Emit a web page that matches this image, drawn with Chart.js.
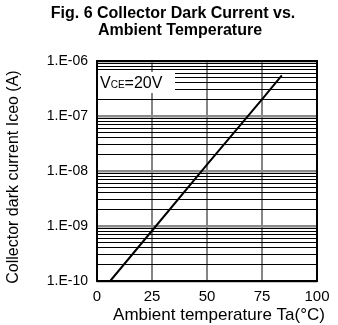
<!DOCTYPE html>
<html>
<head>
<meta charset="utf-8">
<script src="https://cdn.jsdelivr.net/npm/chart.js@4.4.1/dist/chart.umd.min.js"></script>
<style>body{margin:0;background:#fff}</style>
</head>
<body>
<canvas id="darkCurrentChart" width="338" height="325"></canvas>
<script>
// Fig. 6 data
const temperature = [6, 25, 50, 75, 84];
const darkCurrent = [1.0e-10, 8.2e-10, 1.3e-8, 2.0e-7, 5.5e-7];

const xTicks = [0, 25, 50, 75, 100];
const yDecades = [1e-10, 1e-9, 1e-8, 1e-7, 1e-6];
const yDecadeLabels = ['1.E-10', '1.E-09', '1.E-08', '1.E-07', '1.E-06'];
const minorSteps = [2, 3, 4, 5, 6, 7, 8, 9];

const titleLines = ['Fig. 6 Collector Dark Current vs.', 'Ambient Temperature'];
const xTitle = 'Ambient temperature Ta(°C)';
const yTitle = 'Collector dark current Iceo (A)';

const FONT = 'Liberation Sans, Arial, sans-serif';

// log ticks: every decade plus 2..9 inside it
const yTicks = [];
yDecades.forEach((d, i) => {
  yTicks.push(d);
  if (i < yDecades.length - 1) minorSteps.forEach((m) => yTicks.push(m * d));
});

const decadeIndex = (v) => yDecades.findIndex((d) => Math.abs(v / d - 1) < 1e-6);

// titles, plot frame and the VCE note
const framePlugin = {
  id: 'frame',
  afterDatasetsDraw(chart) {
    const { ctx, chartArea } = chart;
    ctx.save();
    ctx.fillStyle = '#000';

    // chart title (two lines)
    ctx.textAlign = 'center';
    ctx.textBaseline = 'middle';
    ctx.font = 'bold 16px ' + FONT;
    ctx.fillText(titleLines[0], 173, 14);
    ctx.fillText(titleLines[1], 180, 31);

    // axis titles
    ctx.font = '17px ' + FONT;
    ctx.fillText(xTitle, 219, chartArea.bottom + 34);
    ctx.save();
    ctx.translate(14, (chartArea.top + chartArea.bottom) / 2 + 6);
    ctx.rotate(-Math.PI / 2);
    ctx.font = '16px ' + FONT;
    ctx.fillText(yTitle, 0, 0);
    ctx.restore();

    // note box
    const bx = chartArea.left + 1, by = chartArea.top + 11;
    ctx.fillStyle = '#fff';
    ctx.fillRect(bx, by, 77, 21);
    ctx.fillStyle = '#000';
    ctx.textAlign = 'left';
    ctx.textBaseline = 'alphabetic';
    let tx = bx + 2;
    const ty = by + 16;
    ctx.font = '16px ' + FONT;
    ctx.fillText('V', tx, ty);
    tx += ctx.measureText('V').width;
    ctx.font = '10px ' + FONT;
    ctx.fillText('CE', tx, ty);
    tx += ctx.measureText('CE').width;
    ctx.font = '16px ' + FONT;
    ctx.fillText('=20V', tx, ty);

    // border
    ctx.strokeStyle = '#000';
    ctx.lineWidth = 2;
    ctx.strokeRect(chartArea.left, chartArea.top, chartArea.right - chartArea.left, chartArea.bottom - chartArea.top);
    ctx.restore();
  },
};

new Chart(document.getElementById('darkCurrentChart'), {
  type: 'line',
  data: {
    datasets: [
      {
        data: temperature.map((t, i) => ({ x: t, y: darkCurrent[i] })),
        borderColor: '#000',
        borderWidth: 2,
        pointRadius: 0,
        fill: false,
        tension: 0,
      },
    ],
  },
  options: {
    responsive: false,
    animation: false,
    layout: { padding: { left: 0, right: 21, top: 61, bottom: 0 } },
    plugins: {
      legend: { display: false },
      tooltip: { enabled: false },
      title: { display: false },
    },
    scales: {
      x: {
        type: 'linear',
        min: 0,
        max: 100,
        afterBuildTicks: (scale) => { scale.ticks = xTicks.map((v) => ({ value: v })); },
        afterFit: (scale) => { scale.height = 44; scale.paddingLeft = 0; scale.paddingRight = 0; },
        ticks: { color: '#000', font: { family: FONT, size: 15 }, padding: 7, maxRotation: 0 },
        grid: {
          drawTicks: false,
          color: (c) => (c.tick && (c.tick.value === 0 || c.tick.value === 100) ? 'rgba(0,0,0,0)' : '#858585'),
          lineWidth: 2,
        },
        border: { display: false },
      },
      y: {
        type: 'logarithmic',
        min: 1e-10,
        max: 1e-6,
        afterBuildTicks: (scale) => { scale.ticks = yTicks.map((v) => ({ value: v })); },
        afterFit: (scale) => { scale.width = 97; scale.paddingTop = 0; scale.paddingBottom = 0; },
        ticks: {
          autoSkip: false,
          color: '#000',
          font: { family: FONT, size: 14 },
          padding: 9,
          callback: (v) => {
            const i = decadeIndex(v);
            return i >= 0 ? yDecadeLabels[i] : '';
          },
        },
        grid: {
          drawTicks: false,
          color: (c) => (c.tick && decadeIndex(c.tick.value) >= 0 ? '#8a8a8a' : '#000'),
          lineWidth: (c) => (c.tick && decadeIndex(c.tick.value) >= 0 ? 2.5 : 1),
        },
        border: { display: false },
      },
    },
  },
  plugins: [framePlugin],
});
</script>
</body>
</html>
